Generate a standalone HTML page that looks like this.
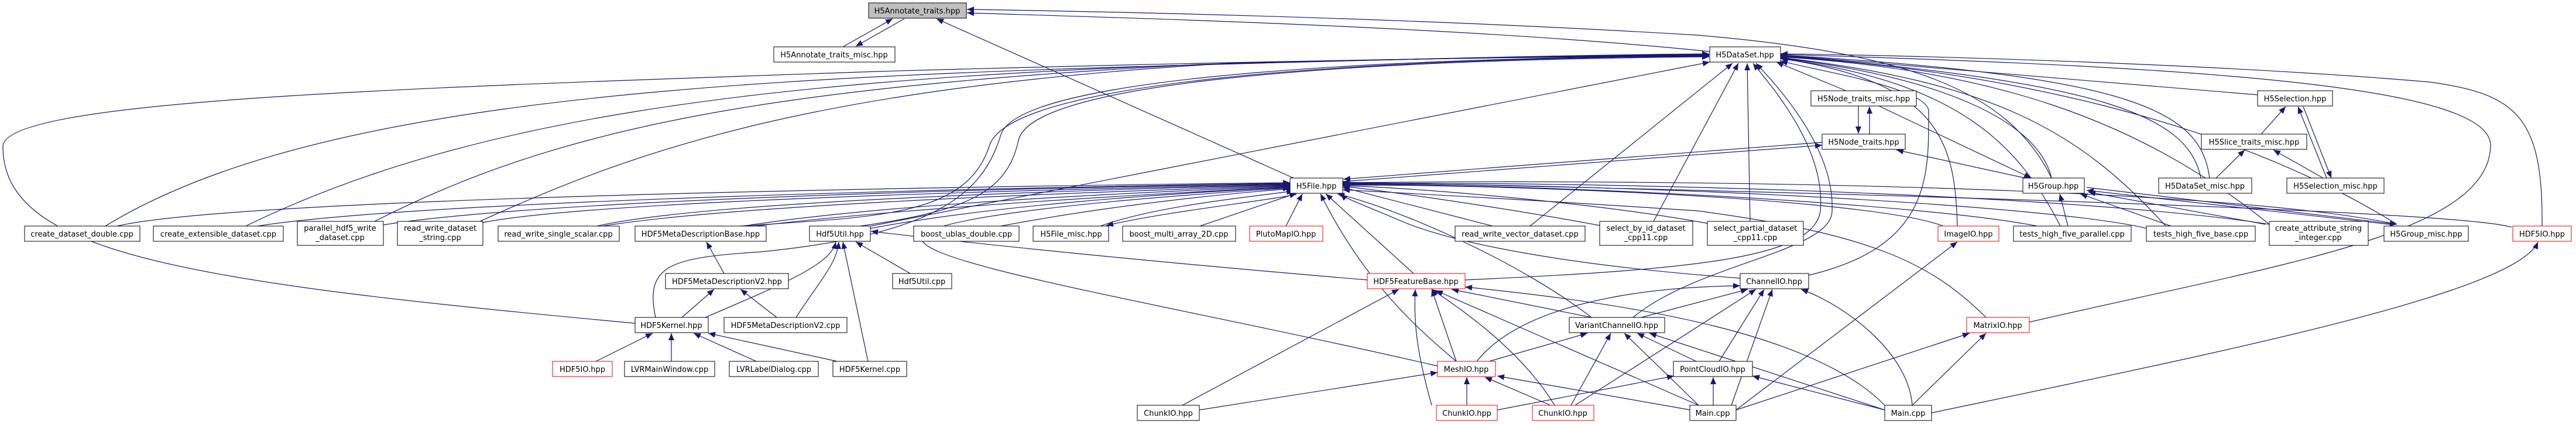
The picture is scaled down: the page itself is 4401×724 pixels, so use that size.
<!DOCTYPE html>
<html><head><meta charset="utf-8"><style>
html,body{margin:0;padding:0;background:#fff;}
svg{display:block}
text{font-family:"DejaVu Sans","Liberation Sans",sans-serif;font-size:13px;fill:#000;text-anchor:middle}
.e path{fill:none;stroke:#191970;stroke-width:1.2;marker-end:url(#a)}
.n rect{fill:#fff;stroke:#000;stroke-width:1}
.n rect.r{stroke:#ff0000}
.n rect.g{fill:#bfbfbf}
</style></head><body>
<svg width="4401" height="724" viewBox="0 0 4401 724" xmlns="http://www.w3.org/2000/svg">
<defs><marker id="a" markerWidth="12" markerHeight="10" refX="12" refY="5" orient="auto" markerUnits="userSpaceOnUse"><path d="M0,0 L12,5 L0,10z" fill="#191970"/></marker></defs>
<g class="e">
<path d="M1440,80 L1525,32"/><path d="M1545,32 L1462,79"/>
<path d="M2210,304 L1600,32"/>
<path d="M2921,88 C2500,45 1900,30 1652,22"/>
<path d="M3505,304 C3430,150 3250,90 2900,60 C2400,30 1900,20 1652,16"/>
<path d="M180,386 C500,190 1100,140 1900,115 C2400,100 2750,93 2920,92"/>
<path d="M420,386 C800,200 1300,140 2000,112 C2500,98 2800,93 2920,93"/>
<path d="M640,378 C950,220 1300,150 2050,110 C2500,98 2800,94 2920,94"/>
<path d="M820,378 C1100,250 1400,150 2100,108 C2500,98 2800,95 2920,95"/>
<path d="M1488,386 L2921,106"/>
<path d="M1265,386 C1500,370 1650,370 1690,250 C1720,140 2300,100 2920,96"/>
<path d="M1470,386 C1650,360 1720,330 1740,240 C1760,140 2300,102 2920,97"/>
<path d="M1120,542 C1100,450 1150,440 1300,430 C1600,400 1680,330 1710,230 C1740,135 2300,100 2920,95"/>
<path d="M1085,552 C300,480 5,430 5,250 C5,170 700,150 1500,122 C2200,102 2700,96 2920,96"/>
<path d="M200,386 C400,340 1500,320 2204,312"/>
<path d="M440,386 C700,345 1600,322 2204,313"/>
<path d="M655,384 C900,345 1600,323 2204,314"/>
<path d="M825,380 C1000,345 1700,325 2204,315"/>
<path d="M1020,386 C1200,345 1800,325 2204,316"/>
<path d="M1030,386 C1250,350 1850,328 2204,317"/>
<path d="M1270,386 C1500,350 1900,330 2204,318"/>
<path d="M1290,386 C1550,355 1950,332 2204,319"/>
<path d="M1487,390 C1700,350 2000,330 2204,320"/>
<path d="M1710,386 C1900,350 2100,330 2210,322"/>
<path d="M1880,386 C1980,350 2150,335 2210,326"/>
<path d="M2215,332 C2150,345 2000,360 1890,385"/>
<path d="M2050,386 L2215,330"/>
<path d="M2197,386 L2225,331"/>
<path d="M2550,386 L2294,320"/>
<path d="M2733,385 C2600,360 2400,330 2294,318"/>
<path d="M2920,382 C2750,350 2450,322 2294,317"/>
<path d="M3320,386 C3200,340 2600,315 2294,316"/>
<path d="M3480,386 C3300,350 2700,315 2294,315"/>
<path d="M3668,390 C3500,350 2800,313 2294,314"/>
<path d="M3877,383 C3600,340 2900,310 2294,313"/>
<path d="M4095,383 C3800,320 2900,305 2294,312"/>
<path d="M4291,388 C4200,360 3200,330 2294,311"/>
<path d="M2415,467 L2265,331"/>
<path d="M2488,617 C2420,560 2330,480 2256,331"/>
<path d="M2719,542 C2600,450 2400,360 2285,331"/>
<path d="M2973,475 C2700,455 2500,420 2400,380 C2330,350 2300,340 2290,331"/>
<path d="M3393,542 C3300,450 3200,400 2900,360 C2600,340 2400,330 2294,324"/>
<path d="M2456,625 C2000,520 1560,450 1575,405 C1590,370 1900,340 2204,321"/>
<path d="M2294,310 L3113,248"/><path d="M3113,243 L2295,306"/>
<path d="M2614,386 L2960,108"/>
<path d="M2825,378 L2970,108"/>
<path d="M2990,378 L2985,108"/>
<path d="M2503,478 C2900,460 3100,440 3110,360 C3120,250 3020,140 2995,108"/>
<path d="M2790,542 C2900,450 3130,430 3130,360 C3135,250 3030,140 3000,108"/>
<path d="M3090,470 C3300,420 3295,300 3295,190 C3295,150 3100,120 3042,104"/>
<path d="M3154,155 L3035,106"/>
<path d="M3344,386 C3340,250 3320,140 3042,100"/>
<path d="M3520,386 C3450,250 3350,140 3042,100"/>
<path d="M3700,386 C3550,220 3400,140 3042,98"/>
<path d="M3877,383 C3650,200 3400,120 3042,97"/>
<path d="M4095,383 C3800,200 3400,120 3042,96"/>
<path d="M3505,304 C3480,200 3300,130 3042,99"/>
<path d="M3760,304 C3740,200 3600,140 3042,95"/>
<path d="M3775,304 C3760,190 3650,130 3042,94"/>
<path d="M3858,162 L3042,94"/>
<path d="M3467,550 C3900,450 4250,400 4255,250 C4260,150 3800,115 3042,93"/>
<path d="M4343,386 C4345,200 4300,160 4150,140 C3800,110 3300,95 3042,92"/>
<path d="M3175,181 L3175,228"/><path d="M3194,229 L3194,182"/>
<path d="M3210,181 L3470,304"/>
<path d="M3460,304 L3240,256"/>
<path d="M3533,386 L3519,331"/>
<path d="M3709,386 L3554,331"/>
<path d="M3870,383 L3568,328"/>
<path d="M4090,384 L3565,325"/><path d="M3565,320 L4095,383"/>
<path d="M3863,229 L3905,182"/>
<path d="M3786,304 L3835,256"/>
<path d="M3969,304 L3884,256"/>
<path d="M3975,304 L3926,182"/><path d="M3935,182 L3983,304"/>
<path d="M1237,467 L1207,413"/>
<path d="M1165,542 L1220,494"/>
<path d="M1327,542 L1265,494"/>
<path d="M1205,542 C1350,480 1420,450 1428,413"/>
<path d="M1360,542 C1400,480 1430,450 1433,413"/>
<path d="M1483,617 L1440,413"/>
<path d="M1555,467 L1462,413"/>
<path d="M2336,478 C2000,450 1700,420 1488,395"/>
<path d="M1018,617 L1115,569"/>
<path d="M1147,617 L1147,569"/>
<path d="M1292,617 L1185,569"/>
<path d="M1430,617 L1210,569"/>
<path d="M2020,692 L2390,494"/>
<path d="M2049,700 L2456,636"/>
<path d="M2488,617 L2446,494"/>
<path d="M2719,542 L2480,494"/>
<path d="M2446,692 C2420,600 2415,550 2418,494"/>
<path d="M2656,692 C2600,600 2500,530 2446,494"/>
<path d="M2902,692 L2453,496"/>
<path d="M3220,692 C3100,570 2800,520 2503,490"/>
<path d="M2544,617 L2712,569"/>
<path d="M2523,617 C2600,520 2800,490 2973,488"/>
<path d="M2506,692 L2506,644"/>
<path d="M2558,700 L2860,642"/>
<path d="M2649,692 L2537,644"/>
<path d="M2684,692 L2752,569"/>
<path d="M2691,692 L3000,494"/>
<path d="M2888,700 L2558,642"/>
<path d="M2902,692 L2775,569"/>
<path d="M2927,692 L2927,644"/>
<path d="M2958,692 L3028,494"/>
<path d="M2966,700 L3344,413"/>
<path d="M2966,700 L3365,569"/>
<path d="M3220,700 L2818,569"/>
<path d="M3220,700 L2994,642"/>
<path d="M3267,692 C3260,600 3150,520 3077,494"/>
<path d="M3267,692 L3393,569"/>
<path d="M3300,705 C3800,600 4300,500 4336,413"/>
<path d="M2898,617 L2797,569"/>
<path d="M2937,617 L3014,494"/>
<path d="M2804,542 L2986,494"/>
</g>
<g class="n">
<rect class="g" x="1484" y="5" width="167" height="26"/><text x="1567" y="23">H5Annotate_traits.hpp</text>
<rect x="1322" y="80" width="207" height="26"/><text x="1425" y="98">H5Annotate_traits_misc.hpp</text>
<rect x="42" y="386" width="197" height="26"/><text x="140" y="404">create_dataset_double.cpp</text>
<rect x="262" y="386" width="222" height="26"/><text x="373" y="404">create_extensible_dataset.cpp</text>
<rect x="508" y="378" width="147" height="41"/><text x="581" y="394">parallel_hdf5_write</text><text x="581" y="410">_dataset.cpp</text>
<rect x="679" y="378" width="146" height="41"/><text x="752" y="394">read_write_dataset</text><text x="752" y="410">_string.cpp</text>
<rect x="851" y="386" width="207" height="26"/><text x="954" y="404">read_write_single_scalar.cpp</text>
<rect x="1085" y="386" width="224" height="26"/><text x="1197" y="404">HDF5MetaDescriptionBase.hpp</text>
<rect x="1383" y="386" width="104" height="26"/><text x="1435" y="404">Hdf5Util.hpp</text>
<rect x="1561" y="386" width="180" height="26"/><text x="1651" y="404">boost_ublas_double.cpp</text>
<rect x="1765" y="386" width="129" height="26"/><text x="1830" y="404">H5File_misc.hpp</text>
<rect x="1918" y="386" width="193" height="26"/><text x="2014" y="404">boost_multi_array_2D.cpp</text>
<rect class="r" x="2135" y="386" width="125" height="26"/><text x="2197" y="404">PlutoMapIO.hpp</text>
<rect x="1137" y="467" width="210" height="26"/><text x="1242" y="485">HDF5MetaDescriptionV2.hpp</text>
<rect x="1525" y="467" width="101" height="26"/><text x="1575" y="485">Hdf5Util.cpp</text>
<rect x="1085" y="542" width="125" height="26"/><text x="1147" y="560">HDF5Kernel.hpp</text>
<rect x="1237" y="542" width="210" height="26"/><text x="1342" y="560">HDF5MetaDescriptionV2.cpp</text>
<rect class="r" x="944" y="617" width="102" height="26"/><text x="995" y="635">HDF5IO.hpp</text>
<rect x="1067" y="617" width="154" height="26"/><text x="1144" y="635">LVRMainWindow.cpp</text>
<rect x="1246" y="617" width="152" height="26"/><text x="1322" y="635">LVRLabelDialog.cpp</text>
<rect x="1423" y="617" width="126" height="26"/><text x="1486" y="635">HDF5Kernel.cpp</text>
<rect x="1943" y="692" width="106" height="26"/><text x="1996" y="710">ChunkIO.hpp</text>
<rect x="2921" y="80" width="121" height="26"/><text x="2981" y="98">H5DataSet.hpp</text>
<rect x="3094" y="155" width="180" height="26"/><text x="3184" y="173">H5Node_traits_misc.hpp</text>
<rect x="3857" y="155" width="128" height="26"/><text x="3921" y="173">H5Selection.hpp</text>
<rect x="3113" y="229" width="142" height="26"/><text x="3184" y="247">H5Node_traits.hpp</text>
<rect x="3761" y="229" width="180" height="26"/><text x="3851" y="247">H5Slice_traits_misc.hpp</text>
<rect x="2204" y="304" width="90" height="26"/><text x="2249" y="322">H5File.hpp</text>
<rect x="3456" y="304" width="105" height="26"/><text x="3508" y="322">H5Group.hpp</text>
<rect x="3688" y="304" width="159" height="26"/><text x="3767" y="322">H5DataSet_misc.hpp</text>
<rect x="3907" y="304" width="166" height="26"/><text x="3990" y="322">H5Selection_misc.hpp</text>
<rect x="2486" y="386" width="222" height="26"/><text x="2597" y="404">read_write_vector_dataset.cpp</text>
<rect x="2733" y="378" width="159" height="41"/><text x="2812" y="394">select_by_id_dataset</text><text x="2812" y="410">_cpp11.cpp</text>
<rect x="2917" y="378" width="164" height="41"/><text x="2999" y="394">select_partial_dataset</text><text x="2999" y="410">_cpp11.cpp</text>
<rect class="r" x="3311" y="386" width="104" height="26"/><text x="3363" y="404">ImageIO.hpp</text>
<rect x="3440" y="386" width="201" height="26"/><text x="3540" y="404">tests_high_five_parallel.cpp</text>
<rect x="3667" y="386" width="186" height="26"/><text x="3760" y="404">tests_high_five_base.cpp</text>
<rect x="3877" y="378" width="169" height="41"/><text x="3961" y="394">create_attribute_string</text><text x="3961" y="410">_integer.cpp</text>
<rect x="4073" y="386" width="144" height="26"/><text x="4145" y="404">H5Group_misc.hpp</text>
<rect class="r" x="4293" y="386" width="100" height="26"/><text x="4343" y="404">HDF5IO.hpp</text>
<rect class="r" x="2336" y="467" width="167" height="26"/><text x="2419" y="485">HDF5FeatureBase.hpp</text>
<rect x="2973" y="467" width="117" height="26"/><text x="3031" y="485">ChannelIO.hpp</text>
<rect x="2681" y="542" width="163" height="26"/><text x="2762" y="560">VariantChannelIO.hpp</text>
<rect class="r" x="3360" y="542" width="107" height="26"/><text x="3413" y="560">MatrixIO.hpp</text>
<rect class="r" x="2456" y="617" width="99" height="26"/><text x="2505" y="635">MeshIO.hpp</text>
<rect x="2859" y="617" width="135" height="26"/><text x="2926" y="635">PointCloudIO.hpp</text>
<rect class="r" x="2454" y="692" width="104" height="26"/><text x="2506" y="710">ChunkIO.hpp</text>
<rect class="r" x="2618" y="692" width="105" height="26"/><text x="2670" y="710">ChunkIO.hpp</text>
<rect x="2887" y="692" width="79" height="26"/><text x="2926" y="710">Main.cpp</text>
<rect x="3220" y="692" width="80" height="26"/><text x="3260" y="710">Main.cpp</text>
</g>
</svg>
</body></html>
